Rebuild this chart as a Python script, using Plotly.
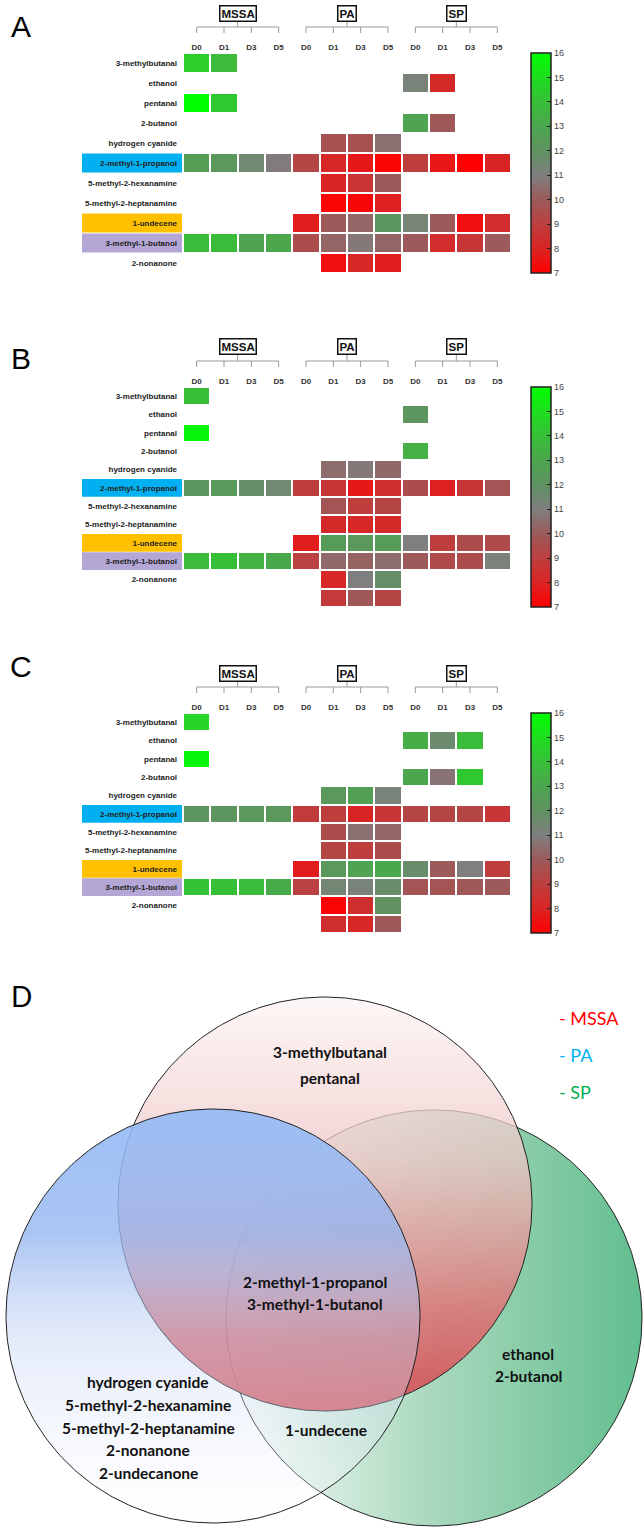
import numpy as np
import plotly.graph_objects as go

W, H = 644, 1533
def px(x): return x / W
def py(y): return 1 - y / H

# ---------------- data ----------------
compounds = ['3-methylbutanal', 'ethanol', 'pentanal', '2-butanol', 'hydrogen cyanide',
             '2-methyl-1-propanol', '5-methyl-2-hexanamine', '5-methyl-2-heptanamine',
             '1-undecene', '3-methyl-1-butanol', '2-nonanone', '2-undecanone']
days = ['D0', 'D1', 'D3', 'D5']
bacteria = ['MSSA', 'PA', 'SP']
col_labels = days * 3
N = None

panel_a = [
    [14.5, 13.8, N, N,   N, N, N, N,   N, N, N, N],
    [N, N, N, N,   N, N, N, N,   11.2, 8.2, N, N],
    [16.0, 14.3, N, N,   N, N, N, N,   N, N, N, N],
    [N, N, N, N,   N, N, N, N,   12.9, 9.9, N, N],
    [N, N, N, N,   N, 9.7, 9.7, 10.6,   N, N, N, N],
    [12.6, 12.3, 11.5, 10.9,   9.3, 8.1, 7.7, 7.1,   9.0, 7.6, 7.0, 8.0],
    [N, N, N, N,   N, 8.0, 8.6, 10.0,   N, N, N, N],
    [N, N, N, N,   N, 7.1, 7.2, 7.9,   N, N, N, N],
    [N, N, N, N,   7.8, 10.0, 10.3, 12.2,   11.3, 10.0, 7.4, 8.3],
    [13.9, 13.9, 12.9, 13.0,   9.5, 10.3, 10.8, 10.3,   10.0, 8.3, 8.7, 10.0],
    [N, N, N, N,   N, 7.4, 8.1, 7.8,   N, N, N, N],
]
panel_b = [
    [14.0, N, N, N,   N, N, N, N,   N, N, N, N],
    [N, N, N, N,   N, N, N, N,   12.2, N, N, N],
    [15.7, N, N, N,   N, N, N, N,   N, N, N, N],
    [N, N, N, N,   N, N, N, N,   13.4, N, N, N],
    [N, N, N, N,   N, 10.5, 10.8, 10.4,   N, N, N, N],
    [12.2, 12.4, 11.8, 11.5,   9.0, 8.7, 7.7, 8.4,   9.5, 7.9, 8.7, 9.8],
    [N, N, N, N,   N, 9.8, 9.0, 9.3,   N, N, N, N],
    [N, N, N, N,   N, 8.2, 8.1, 8.2,   N, N, N, N],
    [N, N, N, N,   7.8, 12.5, 12.3, 12.5,   11.0, 9.0, 9.5, 9.4],
    [13.8, 14.0, 13.5, 13.1,   9.1, 10.4, 10.2, 10.5,   10.0, 9.4, 9.5, 11.1],
    [N, N, N, N,   N, 8.1, 11.0, 11.8,   N, N, N, N],
    [N, N, N, N,   N, 8.8, 9.9, 9.3,   N, N, N, N],
]
panel_c = [
    [14.7, N, N, N,   N, N, N, N,   N, N, N, N],
    [N, N, N, N,   N, N, N, N,   13.3, 11.6, 13.9, N],
    [15.7, N, N, N,   N, N, N, N,   N, N, N, N],
    [N, N, N, N,   N, N, N, N,   13.0, 10.7, 14.3, N],
    [N, N, N, N,   N, 12.3, 12.7, 11.2,   N, N, N, N],
    [12.2, 12.2, 12.3, 12.3,   8.9, 9.0, 8.0, 8.7,   9.3, 9.3, 9.3, 8.7],
    [N, N, N, N,   N, 9.5, 10.6, 10.3,   N, N, N, N],
    [N, N, N, N,   N, 9.3, 9.0, 9.5,   N, N, N, N],
    [N, N, N, N,   7.8, 12.3, 12.9, 13.1,   11.7, 10.0, 11.0, 9.0],
    [14.1, 14.0, 13.9, 13.2,   9.1, 11.4, 11.2, 11.7,   9.8, 9.8, 9.9, 10.0],
    [N, N, N, N,   N, 7.1, 8.4, 12.0,   N, N, N, N],
    [N, N, N, N,   N, 8.4, 8.1, 9.9,   N, N, N, N],
]
cbar_ticks = list(range(7, 17))

venn_mssa_only = ['3-methylbutanal', 'pentanal']
venn_all = ['2-methyl-1-propanol', '3-methyl-1-butanol']
venn_sp_only = ['ethanol', '2-butanol']
venn_pa_only = ['hydrogen cyanide', '5-methyl-2-hexanamine', '5-methyl-2-heptanamine',
                '2-nonanone', '2-undecanone']
venn_pa_sp = ['1-undecene']
legend_items = [('- MSSA', '#ff0000'), ('- PA', '#00b0f0'), ('- SP', '#00b050')]

# ---------------- styles ----------------
colorscale = [
    [0.0, '#ff0000'], [0.111, '#da2424'], [0.222, '#be3e3e'], [0.333, '#9c5a5a'],
    [0.444, '#7f7f7f'], [0.556, '#609262'], [0.667, '#4ca64e'], [0.778, '#38bf38'],
    [0.889, '#1ede1e'], [1.0, '#00ff00']
]
highlight = {'2-methyl-1-propanol': '#00b0f0', '1-undecene': '#ffc000',
             '3-methyl-1-butanol': '#b4a7d6'}

fig = go.Figure()
layout = dict(width=W, height=H, margin=dict(l=0, r=0, t=0, b=0),
              paper_bgcolor='white', plot_bgcolor='white', showlegend=False)
shapes = []
annotations = []

panels = [('A', panel_a, 53, 273), ('B', panel_b, 387, 607), ('C', panel_c, 713, 933)]
letter_y = [26, 358, 666]
X0, X1 = 183, 511
for i, (letter, data, top, bot) in enumerate(panels, start=1):
    n = len(data)
    labels = compounds[:n]
    ticktext = [l if l in compounds[:11] else '' for l in labels]
    xa, ya = f'x{i}' if i > 1 else 'x', f'y{i}' if i > 1 else 'y'
    fig.add_trace(go.Heatmap(
        z=data, x=list(range(12)), y=list(range(n)), xaxis=xa, yaxis=ya,
        zmin=7, zmax=16, colorscale=colorscale, xgap=2, ygap=2, hoverongaps=False,
        colorbar=dict(x=px(531), xanchor='left', y=py((top + bot) / 2), yanchor='middle',
                      len=bot - top, lenmode='pixels', thickness=20, thicknessmode='pixels',
                      outlinewidth=1.5, outlinecolor='#222', ticks='inside', ticklen=4,
                      tickcolor='#222', tickvals=cbar_ticks, xpad=0, ypad=0,
                      tickfont=dict(family='Liberation Sans', size=9, color='#444'))))
    sfx = '' if i == 1 else str(i)
    layout['xaxis' + sfx] = dict(domain=[px(X0), px(X1)], range=[-0.5, 11.5], side='top',
                                 anchor=ya, tickvals=list(range(12)), ticktext=col_labels,
                                 tickfont=dict(family='Liberation Sans', size=8, color='#333',
                                               weight='bold'),
                                 showgrid=False, zeroline=False, showline=False, ticks='')
    layout['yaxis' + sfx] = dict(domain=[py(bot), py(top)], range=[n - 0.5, -0.5],
                                 anchor=xa, tickvals=list(range(n)), ticktext=ticktext,
                                 tickfont=dict(family='Liberation Sans', size=8, color='#222',
                                               weight='bold'),
                                 showgrid=False, zeroline=False, showline=False, ticks='',
                                 ticklabelstandoff=5)
    for r, lab in enumerate(labels):
        if lab in highlight:
            shapes.append(dict(type='rect', xref='paper', yref=ya, x0=px(82), x1=px(182),
                               y0=r - 0.48, y1=r + 0.48, fillcolor=highlight[lab],
                               line=dict(width=0), layer='below'))
    # header brackets
    for g, bname in enumerate(bacteria):
        c0, c1 = 4 * g, 4 * g + 3
        cen = (c0 + c1) / 2
        lc = '#9a9a9a'
        shapes.append(dict(type='line', xref=xa, yref='paper', x0=c0, x1=c1,
                           y0=py(top - 26), y1=py(top - 26), line=dict(color=lc, width=1)))
        shapes.append(dict(type='line', xref=xa, yref='paper', x0=cen, x1=cen,
                           y0=py(top - 33), y1=py(top - 26), line=dict(color=lc, width=1)))
        for c in range(c0, c1 + 1):
            shapes.append(dict(type='line', xref=xa, yref='paper', x0=c, x1=c,
                               y0=py(top - 26), y1=py(top - 20), line=dict(color=lc, width=1)))
        annotations.append(dict(xref=xa, yref='paper', x=cen, y=py(top - 40), text=bname,
                                xanchor='center', yanchor='middle',
                                showarrow=False, font=dict(family='Liberation Sans', size=11.5,
                                                           color='#111', weight='bold'),
                                bordercolor='#111', borderwidth=1.5, borderpad=1,
                                bgcolor='white'))
    annotations.append(dict(xref='paper', yref='paper', x=px(21), y=py(letter_y[i - 1]),
                            xanchor='center', yanchor='middle',
                            text=letter, showarrow=False,
                            font=dict(family='Liberation Sans', size=30, color='black')))

# ---------------- Venn ----------------
VT = 965
layout['xaxis4'] = dict(domain=[0, 1], range=[0, W], visible=False, anchor='y4')
layout['yaxis4'] = dict(domain=[0, py(VT)], range=[H, VT], visible=False, anchor='x4')

t = np.linspace(0, 2 * np.pi, 361)
def circle(cx, cy, r):
    return cx + r * np.cos(t), cy + r * np.sin(t)

# SP (green, horizontal gradient)
gx, gy = circle(434, 1318, 208)
fig.add_trace(go.Scatter(x=gx, y=gy, xaxis='x4', yaxis='y4', mode='lines', fill='toself',
                         line=dict(color='#222', width=1), hoverinfo='skip',
                         fillgradient=dict(type='horizontal', start=226, stop=642,
                                           colorscale=[[0, 'rgb(255,255,255)'],
                                                       [0.5, 'rgb(168,216,189)'],
                                                       [1, 'rgb(98,190,142)']])))
# MSSA (pink, vertical gradient)
mx, my = circle(325, 1204, 207)
fig.add_trace(go.Scatter(x=mx, y=my, xaxis='x4', yaxis='y4', mode='lines', fill='toself',
                         line=dict(color='#222', width=1), hoverinfo='skip',
                         fillgradient=dict(type='vertical', start=997, stop=1411,
                                           colorscale=[[0, 'rgba(253,244,244,0.75)'],
                                                       [0.4, 'rgba(238,196,196,0.75)'],
                                                       [0.75, 'rgba(222,116,118,0.85)'],
                                                       [1, 'rgba(212,72,80,0.9)']])))
# PA (blue, vertical gradient)
bx, by = circle(213, 1316, 207)
fig.add_trace(go.Scatter(x=bx, y=by, xaxis='x4', yaxis='y4', mode='lines', fill='toself',
                         line=dict(color='#222', width=1), hoverinfo='skip',
                         fillgradient=dict(type='vertical', start=1109, stop=1523,
                                           colorscale=[[0, 'rgba(148,186,246,0.92)'],
                                                       [0.3, 'rgba(150,182,240,0.8)'],
                                                       [0.55, 'rgba(182,202,240,0.38)'],
                                                       [0.8, 'rgba(228,235,248,0.32)'],
                                                       [1, 'rgba(255,255,255,0.3)']])))

vfont = dict(family='Lato', size=15.5, color='#111', weight='bold')
def venn_text(items, x, y0, dy):
    for k, s in enumerate(items):
        annotations.append(dict(xref='x4', yref='y4', x=x, y=y0 + k * dy, text=s,
                                xanchor='center', yanchor='middle',
                                showarrow=False, font=vfont))
venn_text(venn_mssa_only, 330, 1052, 26)
venn_text(venn_all, 315, 1282, 22)
venn_text(venn_sp_only, 528, 1354, 22)
venn_text(venn_pa_only, 148, 1382, 22.8)
venn_text(venn_pa_sp, 326, 1430, 22)

for k, (txt, col) in enumerate(legend_items):
    annotations.append(dict(xref='x4', yref='y4', x=557, y=1018 + k * 37, text=txt,
                            xanchor='left', yanchor='middle', showarrow=False,
                            font=dict(family='Lato', size=18, color=col)))
annotations.append(dict(xref='paper', yref='paper', x=px(21), y=py(996), text='D',
                        xanchor='center', yanchor='middle',
                        showarrow=False, font=dict(family='Lato', size=28, color='black')))

layout['shapes'] = shapes
layout['annotations'] = annotations
fig.update_layout(**layout)
fig.write_html('out.html', config={'displayModeBar': False},
               post_script="document.body.style.margin='0px';")
